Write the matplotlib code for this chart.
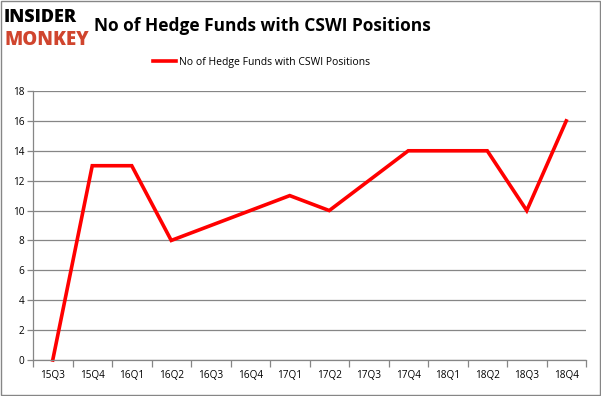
import matplotlib
matplotlib.use("Agg")
import matplotlib.pyplot as plt
from matplotlib.patches import Rectangle

# données
quarters = ["15Q3", "15Q4", "16Q1", "16Q2", "16Q3", "16Q4", "17Q1",
            "17Q2", "17Q3", "17Q4", "18Q1", "18Q2", "18Q3", "18Q4"]
hedge_funds = [0, 13, 13, 8, 9, 10, 11, 10, 12, 14, 14, 14, 10, 16]
y_ticks = [0, 2, 4, 6, 8, 10, 12, 14, 16, 18]
series_label = "No of Hedge Funds with CSWI Positions"

plt.rcParams['font.family'] = ['Open Sans', 'DejaVu Sans']

fig = plt.figure(figsize=(6.01, 3.96), dpi=100)
ax = fig.add_axes([33 / 601, 36 / 396, 553 / 601, 269 / 396])

x = list(range(len(quarters)))
line, = ax.plot(x, hedge_funds, color='#ff0000', linewidth=2.6,
                solid_joinstyle='miter', label=series_label, clip_on=False)

ax.set_xlim(-0.5, len(quarters) - 0.5)
ax.set_ylim(0, 18)
ax.set_yticks(y_ticks)
ax.grid(axis='y', color='#868686', linewidth=0.9)
ax.set_axisbelow(True)

# ticks x entre les catégories
ax.set_xticks([i - 0.5 for i in range(len(quarters) + 1)], minor=False)
ax.set_xticklabels([])
ax.set_xticks(x, minor=True)
ax.set_xticklabels(quarters, minor=True, fontsize=7.2)
ax.tick_params(axis='x', which='major', length=5, color='#868686', width=0.9)
ax.tick_params(axis='x', which='minor', length=0, pad=7)
ax.tick_params(axis='y', length=4, color='#868686', width=0.9, labelsize=7.2, pad=2)

for s in ['top', 'right']:
    ax.spines[s].set_visible(False)
for s in ['left', 'bottom']:
    ax.spines[s].set_color('#868686')
    ax.spines[s].set_linewidth(0.9)

fig.text(262 / 601, 1 - 26 / 396, "No of Hedge Funds with CSWI Positions",
         ha='center', va='center', fontsize=12.5, fontweight='bold')
fig.text(4 / 601, 1 - 18 / 396, "INSIDER", ha='left', va='center',
         fontsize=13, fontweight='heavy', color='black')
fig.text(4 / 601, 1 - 40 / 396, "MONKEY", ha='left', va='center',
         fontsize=13.5, fontweight='heavy', color='#d0452e')

fig.legend(handles=[line], loc='center', bbox_to_anchor=(262 / 601, 1 - 62 / 396),
           frameon=False, fontsize=7.5, handlelength=2.2, handletextpad=0.3)

fig.patches.append(Rectangle((0.0015, 0.002), 0.997, 0.996, transform=fig.transFigure,
                             fill=False, edgecolor='#868686', linewidth=1))

fig.savefig("out.png", dpi=100)
